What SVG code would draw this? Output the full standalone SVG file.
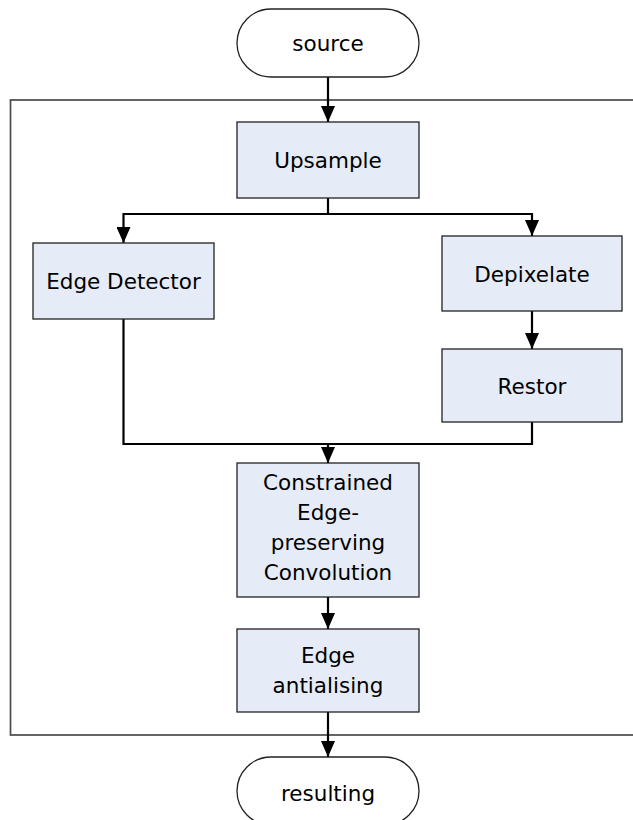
<svg xmlns="http://www.w3.org/2000/svg" width="633" height="820" viewBox="0 0 633 820">
<style>
.box{fill:#e5ecf7;stroke:#222;stroke-width:1.3}
.term{fill:#fff;stroke:#222;stroke-width:1.3}
.lbl{font-family:"DejaVu Sans",sans-serif;font-size:21.5px;fill:#000;text-anchor:middle}
.con{fill:none;stroke:#000;stroke-width:2.2}
.arr{marker-end:url(#ah)}
</style>
<defs>
<marker id="ah" markerUnits="userSpaceOnUse" markerWidth="16" markerHeight="14" refX="16" refY="7" orient="auto">
<path d="M0,0 L16,7 L0,14 Z" fill="#000"/>
</marker>
</defs>
<rect id="frame" x="10.5" y="100" width="640" height="635" fill="none" stroke="#4a4a4a" stroke-width="1.7"/>
<g id="connectors">
<path class="con arr" d="M328,77 V122"/>
<path class="con arr" d="M328,198 V214 H123.5 V243"/>
<path class="con arr" d="M328,214 H532 V236"/>
<path class="con arr" d="M532,311 V349"/>
<path class="con arr" d="M123.5,319 V444 H328 V463"/>
<path class="con" d="M532,422 V444 H328"/>
<path class="con arr" d="M328,597 V629"/>
<path class="con arr" d="M328,712 V757"/>
</g>
<g id="source">
<rect class="term" x="237" y="9" width="182" height="68" rx="34"/>
<text class="lbl" x="328" y="51">source</text>
</g>
<g id="upsample">
<rect class="box" x="237" y="122" width="182" height="76"/>
<text class="lbl" x="328" y="168">Upsample</text>
</g>
<g id="edge-detector">
<rect class="box" x="33" y="243" width="181" height="76"/>
<text class="lbl" x="123.5" y="289">Edge Detector</text>
</g>
<g id="depixelate">
<rect class="box" x="442" y="236" width="180" height="75"/>
<text class="lbl" x="532" y="282">Depixelate</text>
</g>
<g id="restor">
<rect class="box" x="442" y="349" width="180" height="73"/>
<text class="lbl" x="532" y="394">Restor</text>
</g>
<g id="constrained">
<rect class="box" x="237" y="463" width="182" height="134"/>
<text class="lbl" x="328" y="490">Constrained</text>
<text class="lbl" x="328" y="520">Edge-</text>
<text class="lbl" x="328" y="550">preserving</text>
<text class="lbl" x="328" y="580">Convolution</text>
</g>
<g id="antialiasing">
<rect class="box" x="237" y="629" width="182" height="83"/>
<text class="lbl" x="328" y="663">Edge</text>
<text class="lbl" x="328" y="693">antialising</text>
</g>
<g id="resulting">
<rect class="term" x="237" y="757" width="182" height="68" rx="34"/>
<text class="lbl" x="328" y="801">resulting</text>
</g>
</svg>
